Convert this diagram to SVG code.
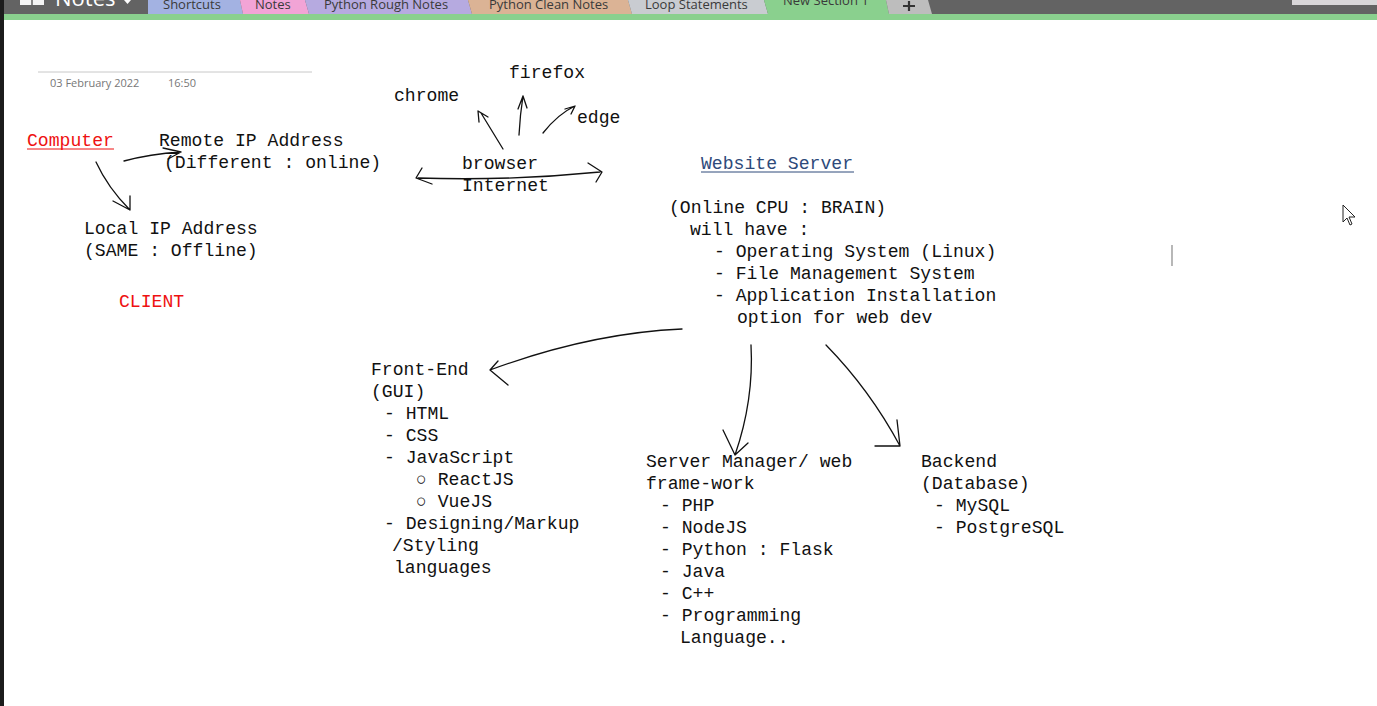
<svg xmlns="http://www.w3.org/2000/svg" width="1377" height="706" viewBox="0 0 1377 706">
<style>
.m{font-family:"Liberation Mono","DejaVu Sans Mono",monospace;font-size:18.1px;fill:#111}
.red{fill:#ee1111}
.tab{font-family:"Open Sans","Liberation Sans",sans-serif;font-size:13px;fill:#3a3a3a}
.date{font-family:"Open Sans","Liberation Sans",sans-serif;font-size:11px;fill:#777}
.c path{fill:none;stroke:#111;stroke-width:1.3;stroke-linecap:round;stroke-linejoin:round}
</style>
<rect width="1377" height="706" fill="#ffffff"/>
<!-- top bar -->
<g id="topbar">
<rect x="0" y="0" width="1377" height="14" fill="#636363"/>
<rect x="0" y="14" width="1377" height="6" fill="#8ad08e"/>
<rect x="20" y="0" width="24" height="5" fill="#f4f4f4"/>
<line x1="32" y1="0" x2="32" y2="5" stroke="#636363" stroke-width="1.5"/>
<text x="55" y="6" font-family="Open Sans,Liberation Sans,sans-serif" font-size="22" fill="#ffffff">Notes</text>
<path d="M124,0 L131,0 L127.5,4 Z" fill="#ffffff"/>
<path d="M148,0 L240,0 L243,14 L148,14 Z" fill="#a3b2e2"/>
<path d="M240,0 L305,0 L309,14 L243,14 Z" fill="#f2a4d6"/>
<path d="M305,0 L468,0 L472,14 L309,14 Z" fill="#b6aae0"/>
<path d="M468,0 L628,0 L632,14 L472,14 Z" fill="#dbb395"/>
<path d="M628,0 L764,0 L768,14 L632,14 Z" fill="#c9ccd1"/>
<path d="M764,0 L886,0 L889,14 L768,14 Z" fill="#8ad08e"/>
<path d="M886,0 L928,0 L932,14 L889,14 Z" fill="#bdbdbd"/>
<text class="tab" x="163" y="9">Shortcuts</text>
<text class="tab" x="255" y="9">Notes</text>
<text class="tab" x="324" y="9">Python Rough Notes</text>
<text class="tab" x="489" y="9">Python Clean Notes</text>
<text class="tab" x="645" y="9">Loop Statements</text>
<text class="tab" x="783" y="5">New Section 1</text>
<path d="M903,6 L915,6 M909,1 L909,11" stroke="#333" stroke-width="2.2"/>
<rect x="1292" y="0" width="85" height="5" fill="#d8d6d8"/>
<rect x="0" y="0" width="4" height="706" fill="#1c1c1c"/>
</g>
<g id="dateline">
<line x1="38" y1="72" x2="312" y2="72" stroke="#c8c8c8" stroke-width="1"/>
<text class="date" x="50" y="87">03 February 2022</text>
<text class="date" x="168" y="87">16:50</text>
</g>
<!-- nodes -->
<g id="computer">
<text class="m red" x="27" y="146">Computer</text>
<line x1="27" y1="149" x2="114" y2="149" stroke="#ee1111" stroke-width="1"/>
</g>
<g id="remote">
<text class="m" x="159" y="146">Remote IP Address</text>
<text class="m" x="164" y="168">(Different : online)</text>
</g>
<g id="local">
<text class="m" x="84" y="234">Local IP Address</text>
<text class="m" x="84" y="256">(SAME : Offline)</text>
</g>
<g id="client"><text class="m red" x="119" y="307">CLIENT</text></g>
<g id="chrome"><text class="m" x="394" y="101">chrome</text></g>
<g id="firefox"><text class="m" x="509" y="78">firefox</text></g>
<g id="edge"><text class="m" x="577" y="123">edge</text></g>
<g id="browser">
<text class="m" x="462" y="169">browser</text>
<text class="m" x="462" y="191">Internet</text>
</g>
<g id="server">
<text class="m" x="701" y="169" style="fill:#2e4a7a">Website Server</text>
<line x1="701" y1="172" x2="854" y2="172" stroke="#2e4a7a" stroke-width="1"/>
<text class="m" x="669" y="213">(Online CPU : BRAIN)</text>
<text class="m" x="690" y="235">will have :</text>
<text class="m" x="714" y="257">- Operating System (Linux)</text>
<text class="m" x="714" y="279">- File Management System</text>
<text class="m" x="714" y="301">- Application Installation</text>
<text class="m" x="737" y="323">option for web dev</text>
</g>
<g id="frontend">
<text class="m" x="371" y="375">Front-End</text>
<text class="m" x="371" y="397">(GUI)</text>
<text class="m" x="384" y="419">- HTML</text>
<text class="m" x="384" y="441">- CSS</text>
<text class="m" x="384" y="463">- JavaScript</text>
<text class="m" x="416" y="485">○ ReactJS</text>
<text class="m" x="416" y="507">○ VueJS</text>
<text class="m" x="384" y="529">- Designing/Markup</text>
<text class="m" x="392" y="551">/Styling</text>
<text class="m" x="394" y="573">languages</text>
</g>
<g id="servermanager">
<text class="m" x="646" y="467">Server Manager/ web</text>
<text class="m" x="646" y="489">frame-work</text>
<text class="m" x="660" y="511">- PHP</text>
<text class="m" x="660" y="533">- NodeJS</text>
<text class="m" x="660" y="555">- Python : Flask</text>
<text class="m" x="660" y="577">- Java</text>
<text class="m" x="660" y="599">- C++</text>
<text class="m" x="660" y="621">- Programming</text>
<text class="m" x="680" y="643">Language..</text>
</g>
<g id="backend">
<text class="m" x="921" y="467">Backend</text>
<text class="m" x="921" y="489">(Database)</text>
<text class="m" x="934" y="511">- MySQL</text>
<text class="m" x="934" y="533">- PostgreSQL</text>
</g>
<!-- connectors -->
<g id="connectors" class="c">
<path d="M124,161 Q150,154 181,152 M163,148 L181,152 L168,159"/>
<path d="M96,162 Q108,188 130,210 M130,196 L130,210 L113,201"/>
<path d="M503,149 L481,113 M479,122 L478,111 L488,117"/>
<path d="M519,135 Q520,115 523,96 M518,109 L523,96 L527,108"/>
<path d="M543,133 Q558,114 575,106 M565,109 L575,106 L571,114"/>
<path d="M418,178 Q510,181 600,172 M422,168 L416,178 L432,184 M588,163 L602,172 L596,182"/>
<path d="M682,329 Q590,333 490,370 M498,361 L490,370 L508,385"/>
<path d="M751,345 Q754,400 735,455 M723,430 L735,455 M735,455 L748,443"/>
<path d="M826,345 Q870,390 900,446 M897,420 L900,446 L875,446"/>
</g>
<g id="cursor">
<path d="M1343,205 L1343,222 L1347,218 L1350,225 L1352,224 L1349,217 L1355,217 Z" fill="#ffffff" stroke="#222" stroke-width="1"/>
<line x1="1172" y1="245" x2="1172" y2="266" stroke="#888" stroke-width="1.2"/>
</g>
</svg>
